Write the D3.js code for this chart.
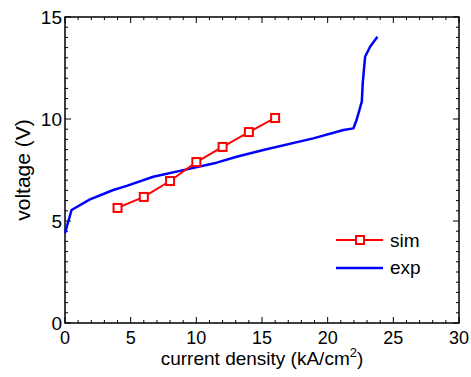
<!DOCTYPE html>
<html>
<head>
<meta charset="utf-8">
<script src="https://cdn.jsdelivr.net/npm/d3@7"></script>
<style>
  body { margin: 0; background: #fff; }
  text { font-family: "Liberation Sans", Arial, sans-serif; fill: #000; }
</style>
</head>
<body>
<svg id="chart" width="471" height="377"></svg>
<script>
// simulated curve
const simX = [4, 6, 8, 10, 12, 14, 16];
const simY = [5.64, 6.18, 6.96, 7.89, 8.63, 9.36, 10.05];

// experimental curve
const expX = [0, 0.5, 1.9, 3.68, 4.7, 6.72, 9.27, 11.55, 13.07, 15.1, 18.9, 21.2, 21.96, 22.2, 22.6, 22.67, 22.85, 23.23, 23.79];
const expY = [4.41, 5.54, 6.06, 6.52, 6.72, 7.17, 7.53, 7.86, 8.15, 8.48, 9.05, 9.46, 9.54, 9.95, 10.85, 11.76, 13.05, 13.54, 14.03];

const xTicks = [0, 5, 10, 15, 20, 25, 30];
const yTicks = [0, 5, 10, 15];

const margin = { top: 17, right: 12, bottom: 54, left: 65 };
const width = 471, height = 377;

const svg = d3.select("#chart");

const x = d3.scaleLinear().domain([0, 30]).range([margin.left, width - margin.right]);
const y = d3.scaleLinear().domain([0, 15]).range([height - margin.bottom, margin.top]);

// frame
svg.append("rect")
  .attr("x", x(0)).attr("y", y(15))
  .attr("width", x(30) - x(0)).attr("height", y(0) - y(15))
  .attr("fill", "none").attr("stroke", "#000").attr("stroke-width", 1.5);

// inward ticks, major and minor, on all four sides
const g = svg.append("g").attr("stroke", "#000").attr("stroke-width", 1);
d3.range(0, 31, 1).forEach(v => {
  const len = v % 5 === 0 ? 6 : 3;
  g.append("line").attr("x1", x(v)).attr("x2", x(v)).attr("y1", y(0)).attr("y2", y(0) - len);
  g.append("line").attr("x1", x(v)).attr("x2", x(v)).attr("y1", y(15)).attr("y2", y(15) + len);
});
d3.range(0, 15.01, 0.5).forEach(v => {
  const len = v % 5 === 0 ? 6 : 3;
  g.append("line").attr("y1", y(v)).attr("y2", y(v)).attr("x1", x(0)).attr("x2", x(0) + len);
  g.append("line").attr("y1", y(v)).attr("y2", y(v)).attr("x1", x(30)).attr("x2", x(30) - len);
});

// tick labels
svg.selectAll(".xt").data(xTicks).enter().append("text")
  .attr("x", d => x(d)).attr("y", y(0) + 21)
  .attr("text-anchor", "middle").style("font-size", "18px")
  .text(d => d);

svg.selectAll(".yt").data(yTicks).enter().append("text")
  .attr("x", x(0) - 3).attr("y", d => y(d) + 7)
  .attr("text-anchor", "end").style("font-size", "19px")
  .text(d => d);

// axis titles
const xt = svg.append("text")
  .attr("x", (x(0) + x(30)) / 2).attr("y", 365)
  .attr("text-anchor", "middle").style("font-size", "19px");
xt.append("tspan").text("current density (kA/cm");
xt.append("tspan").attr("dy", -8).style("font-size", "13px").text("2");
xt.append("tspan").attr("dy", 8).text(")");

svg.append("text")
  .attr("transform", `translate(30,${(y(0) + y(15)) / 2}) rotate(-90)`)
  .attr("text-anchor", "middle").style("font-size", "21px")
  .text("voltage (V)");

const line = d3.line().x(d => x(d[0])).y(d => y(d[1]));

// exp line
svg.append("path")
  .datum(expX.map((v, i) => [v, expY[i]]))
  .attr("d", line)
  .attr("fill", "none").attr("stroke", "#0000ff").attr("stroke-width", 2.5)
  .attr("stroke-linejoin", "round");

// sim line + markers
const simData = simX.map((v, i) => [v, simY[i]]);
svg.append("path")
  .datum(simData)
  .attr("d", line)
  .attr("fill", "none").attr("stroke", "#ff0000").attr("stroke-width", 2);

svg.selectAll(".mk").data(simData).enter().append("rect")
  .attr("x", d => x(d[0]) - 4).attr("y", d => y(d[1]) - 4)
  .attr("width", 8).attr("height", 8)
  .attr("fill", "#fff").attr("stroke", "#ff0000").attr("stroke-width", 2);

// legend
const legend = svg.append("g");
legend.append("line").attr("x1", 336).attr("x2", 383).attr("y1", 240).attr("y2", 240)
  .attr("stroke", "#ff0000").attr("stroke-width", 2);
legend.append("rect").attr("x", 356).attr("y", 236).attr("width", 8).attr("height", 8)
  .attr("fill", "#fff").attr("stroke", "#ff0000").attr("stroke-width", 2);
legend.append("text").attr("x", 390).attr("y", 247).style("font-size", "19px").text("sim");

legend.append("line").attr("x1", 336).attr("x2", 383).attr("y1", 268).attr("y2", 268)
  .attr("stroke", "#0000ff").attr("stroke-width", 2.5);
legend.append("text").attr("x", 390).attr("y", 274).style("font-size", "19px").text("exp");
</script>
</body>
</html>
